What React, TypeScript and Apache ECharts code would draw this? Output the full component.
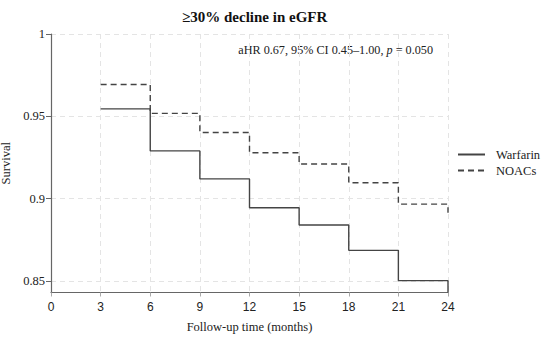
import React, { useEffect, useRef } from "react";
import * as echarts from "echarts";

const months = [3, 6, 9, 12, 15, 18, 21, 24, 24];
const warfarin = [0.9545, 0.929, 0.912, 0.8945, 0.884, 0.8686, 0.8502, 0.8502, 0.843];
const noacs = [0.9693, 0.9518, 0.9402, 0.9279, 0.921, 0.9097, 0.8967, 0.8967, 0.8915];
const yTicks = [0.85, 0.9, 0.95, 1];
const yTickLabels = ["0.85", "0.9", "0.95", "1"];
const seriesNames = ["Warfarin", "NOACs"];

const SERIF = "'Liberation Serif', 'DejaVu Serif', serif";
const SANS = "'Liberation Sans', Arial, sans-serif";

export default function App() {
  const ref = useRef<HTMLDivElement>(null);
  useEffect(() => {
    if (!ref.current) return;
    const chart = echarts.init(ref.current, undefined, { renderer: "svg" });
    const toPairs = (vals: number[]) => vals.map((v, i) => [months[i], v]);
    chart.setOption({
      animation: false,
      backgroundColor: "#fff",
      title: {
        text: "≥30% decline in eGFR",
        left: 177,
        top: 4,
        textStyle: { fontFamily: SERIF, fontSize: 15, fontWeight: "bold", color: "#111" },
      },
      legend: {
        orient: "vertical",
        left: 457,
        top: 148,
        padding: 0,
        itemWidth: 27,
        itemHeight: 10,
        itemGap: 3,
        data: seriesNames,
        itemStyle: { opacity: 0 },
        textStyle: { fontFamily: SERIF, fontSize: 12.5, color: "#222", padding: [0, 0, 0, 6] },
      },
      grid: { left: 51, right: 102, top: 34, bottom: 45.5, outerBoundsMode: "none", containLabel: false },
      xAxis: {
        type: "value",
        min: 0,
        max: 24,
        interval: 3,
        name: "Follow-up time (months)",
        nameLocation: "middle",
        nameGap: 28,
        nameTextStyle: { fontFamily: SERIF, fontSize: 12.5, color: "#222" },
        axisLine: { lineStyle: { color: "#666", width: 1.2 } },
        axisTick: { show: true, length: 4, lineStyle: { color: "#aaa" } },
        axisLabel: { fontFamily: SANS, fontSize: 12, color: "#222", margin: 8 },
        splitLine: { show: true, lineStyle: { color: "#e4e4e4", type: [5, 4] } },
      },
      yAxis: {
        type: "value",
        min: 0.843,
        max: 1,
        name: "Survival",
        nameLocation: "middle",
        nameGap: 33,
        nameTextStyle: { fontFamily: SERIF, fontSize: 12.5, color: "#222" },
        axisLine: { show: true, lineStyle: { color: "#666", width: 1.2 } },
        axisTick: { show: true, length: 5, customValues: yTicks, lineStyle: { color: "#666" } },
        axisLabel: {
          customValues: yTicks,
          fontFamily: SERIF,
          fontSize: 12.5,
          color: "#222",
          margin: 6,
          formatter: (v: number) => yTickLabels[yTicks.findIndex((t) => Math.abs(t - v) < 1e-6)] ?? String(v),
        },
        splitLine: { show: true, lineStyle: { color: "#e4e4e4", type: [5, 4] } },
      },
      graphic: [
        {
          type: "text",
          right: 117,
          top: 44,
          style: {
            text: "aHR 0.67, 95% CI 0.45–1.00, {it|p} = 0.050",
            fontFamily: SERIF,
            fontSize: 12.2,
            fill: "#222",
            rich: { it: { fontStyle: "italic", fontFamily: SERIF, fontSize: 12.2, fill: "#222" } },
          },
        },
      ],
      series: [
        {
          name: seriesNames[0],
          type: "line",
          step: "end",
          symbol: "none",
          data: toPairs(warfarin),
          lineStyle: { color: "#444", width: 1.4, type: "solid" },
          itemStyle: { color: "#444" },
        },
        {
          name: seriesNames[1],
          type: "line",
          step: "end",
          symbol: "none",
          data: toPairs(noacs),
          lineStyle: { color: "#444", width: 1.4, type: [6, 4] },
          itemStyle: { color: "#444" },
        },
      ],
    });
    return () => chart.dispose();
  }, []);
  return <div ref={ref} style={{ position: "fixed", left: 0, top: 0, width: 550, height: 338 }} />;
}
